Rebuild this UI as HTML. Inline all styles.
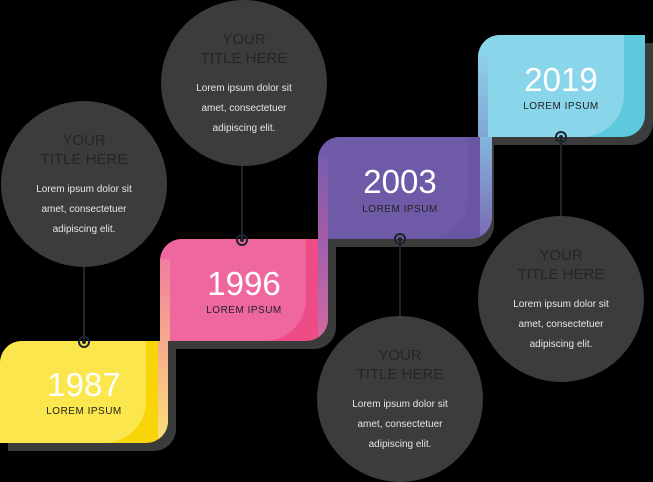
<!DOCTYPE html>
<html><head><meta charset="utf-8"><style>
body{margin:0;background:#000;width:653px;height:482px;overflow:hidden;position:relative;font-family:"Liberation Sans",sans-serif}
.a{position:absolute}
.shadow{position:absolute;background:#3b3b3b;border-radius:22px 0 22px 0}
.blk{position:absolute;border-radius:22px 0 22px 0;overflow:hidden}
.blk .dk{position:absolute;right:0;top:0;bottom:0;width:34px}
.blk .lt{position:absolute;left:0;top:0;bottom:0;border-radius:0 0 42px 0}
.yr{position:absolute;width:168px;text-align:center;color:#fff;font-size:33px;font-weight:300}
.lbl{position:absolute;width:168px;text-align:center;color:#222;font-size:10px;letter-spacing:0.5px}
.circ{position:absolute;width:166px;height:166px;border-radius:50%;background:#3c3c3c;text-align:center}
.circ .t{position:absolute;width:100%;top:30px;color:#252525;font-size:15px;line-height:19px}
.circ .p{position:absolute;width:100%;top:79px;color:#e6e6e6;font-size:10px;line-height:20px}
.ln{position:absolute;width:2px;background:#1d2530}
.dot{position:absolute;width:12px;height:12px;border-radius:50%;border:2px solid #1d2530;box-sizing:border-box}
.dot::after{content:"";position:absolute;left:2px;top:2px;width:4px;height:4px;border-radius:50%;background:#1d2530}
</style></head><body>
<div class="shadow" style="left:8px;top:349px;width:168px;height:102px"></div>
<div class="shadow" style="left:168px;top:247px;width:168px;height:102px"></div>
<div class="shadow" style="left:328px;top:145px;width:166px;height:102px"></div>
<div class="shadow" style="left:486px;top:43px;width:167px;height:102px"></div>

<div class="blk" style="left:0;top:341px;width:168px;height:102px;background:#f8d508">
<div class="lt" style="background:#fbe64d;width:146px"></div>
<div class="a" style="left:158px;top:0;width:10px;height:102px;background:linear-gradient(#f6a98c,#fbe27a)"></div>
</div>
<div class="blk" style="left:160px;top:239px;width:168px;height:102px;background:#ee4c87">
<div class="lt" style="background:#ef679f;width:146px"></div>
<div class="a" style="left:0;top:20px;width:10px;height:82px;background:linear-gradient(#f07ea0,#f6a98c)"></div>
<div class="a" style="left:158px;top:0;width:10px;height:102px;background:linear-gradient(#9c5fae,#d56aa2)"></div>
</div>
<div class="blk" style="left:318px;top:137px;width:174px;height:102px;background:#6a55a4">
<div class="lt" style="background:#6f5aa8;width:150px"></div>
<div class="a" style="left:0;top:20px;width:10px;height:82px;background:linear-gradient(#7a5cb0,#a65ba6)"></div>
<div class="a" style="left:162px;top:0;width:12px;height:102px;background:linear-gradient(#85b6dc,#7a6ab6)"></div>
</div>
<div class="blk" style="left:478px;top:35px;width:167px;height:102px;background:#5ec8dd">
<div class="lt" style="background:#89d5ea;width:146px"></div>
<div class="a" style="left:0;top:20px;width:10px;height:82px;background:linear-gradient(#8fcfe8,#80a6d3)"></div>
</div>

<div class="yr" style="left:0;top:366px">1987</div>
<div class="lbl" style="left:0;top:406px">LOREM IPSUM</div>
<div class="yr" style="left:160px;top:265px">1996</div>
<div class="lbl" style="left:160px;top:305px">LOREM IPSUM</div>
<div class="yr" style="left:316px;top:163px">2003</div>
<div class="lbl" style="left:316px;top:204px">LOREM IPSUM</div>
<div class="yr" style="left:477px;top:61px">2019</div>
<div class="lbl" style="left:477px;top:101px">LOREM IPSUM</div>

<div class="ln" style="left:83px;top:262px;height:80px"></div>
<div class="ln" style="left:241px;top:160px;height:80px"></div>
<div class="ln" style="left:399px;top:239px;height:82px"></div>
<div class="ln" style="left:560px;top:137px;height:82px"></div>
<div class="dot" style="left:78px;top:336px"></div>
<div class="dot" style="left:236px;top:234px"></div>
<div class="dot" style="left:394px;top:233px"></div>
<div class="dot" style="left:555px;top:131px"></div>

<div class="circ" style="left:1px;top:101px">
<div class="t">YOUR<br>TITLE HERE</div>
<div class="p">Lorem ipsum dolor sit<br>amet, consectetuer<br>adipiscing elit.</div></div>
<div class="circ" style="left:161px;top:0px">
<div class="t">YOUR<br>TITLE HERE</div>
<div class="p">Lorem ipsum dolor sit<br>amet, consectetuer<br>adipiscing elit.</div></div>
<div class="circ" style="left:317px;top:316px">
<div class="t">YOUR<br>TITLE HERE</div>
<div class="p">Lorem ipsum dolor sit<br>amet, consectetuer<br>adipiscing elit.</div></div>
<div class="circ" style="left:478px;top:216px">
<div class="t">YOUR<br>TITLE HERE</div>
<div class="p">Lorem ipsum dolor sit<br>amet, consectetuer<br>adipiscing elit.</div></div>
</body></html>
